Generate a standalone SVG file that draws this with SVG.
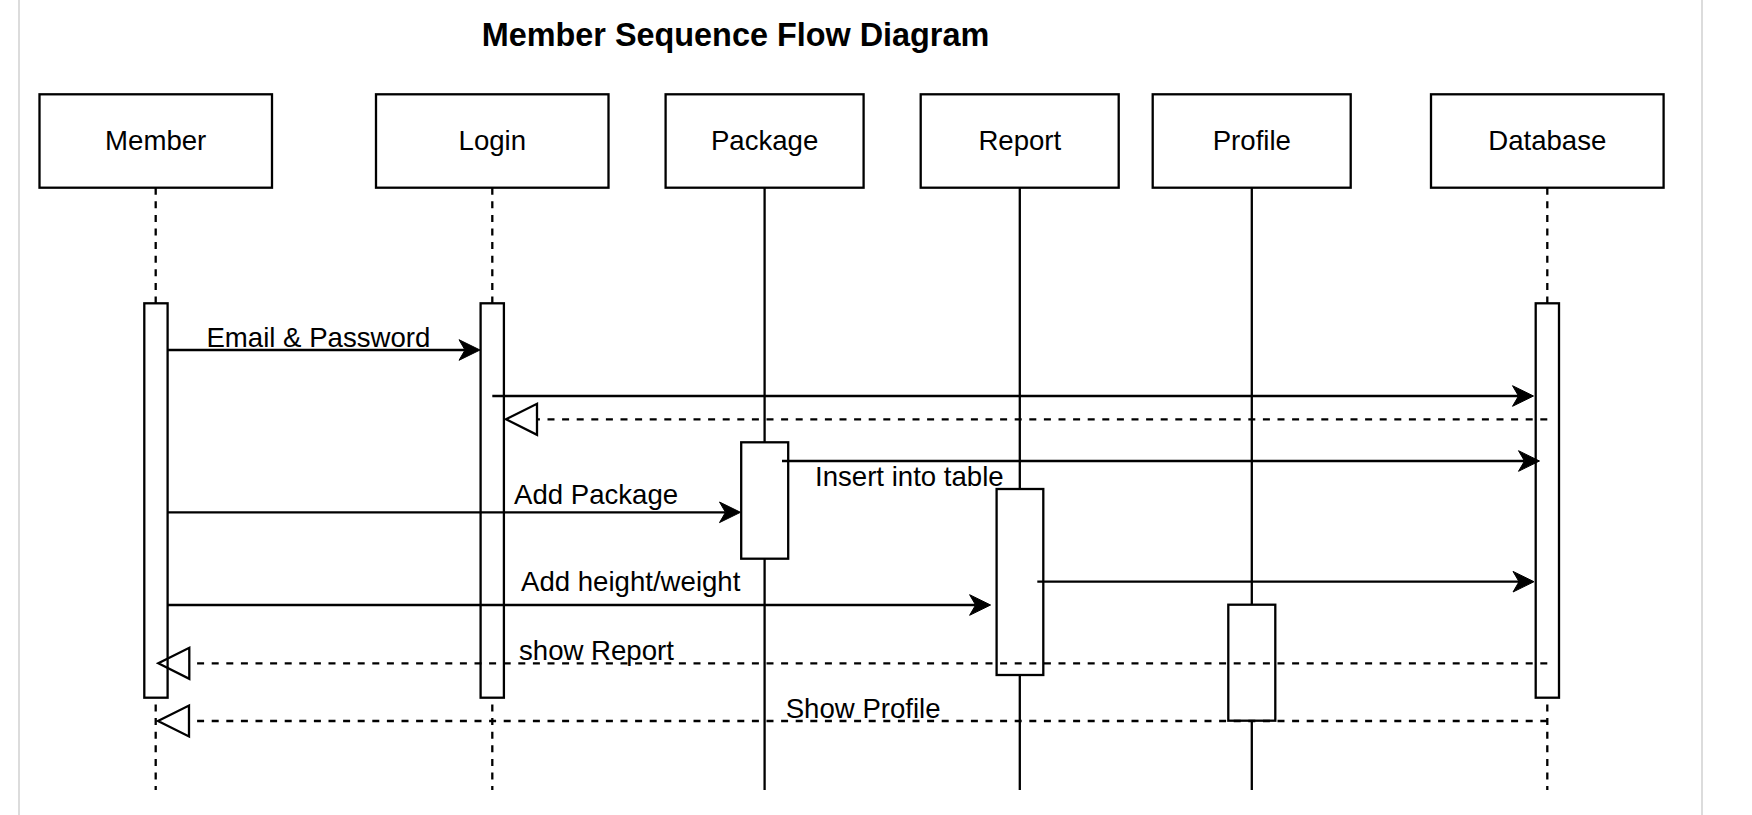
<svg xmlns="http://www.w3.org/2000/svg" width="1752" height="815" viewBox="0 0 1752 815">
<defs>
<style>
.box{fill:#fff;stroke:#000;stroke-width:2.3}
.act{fill:#fff;stroke:#000;stroke-width:2.3}
.life{fill:none;stroke:#000;stroke-width:2.3}
.dash{stroke-dasharray:7 6.6}
.msg{fill:none;stroke:#000;stroke-width:2.3}
.ret{fill:none;stroke:#000;stroke-width:2.3;stroke-dasharray:7 7.6}
.lbl{font-family:"Liberation Sans",Arial,Helvetica,sans-serif;font-size:27.6px;fill:#000}
.ctr{text-anchor:middle}
.title{font-family:"Liberation Sans",Arial,Helvetica,sans-serif;font-size:32.4px;font-weight:bold;fill:#000;text-anchor:middle}
.page{stroke:#dcdcdc;stroke-width:2}
</style>
<marker id="arr" markerUnits="userSpaceOnUse" markerWidth="30" markerHeight="30" viewBox="-4 -15 30 30" refX="6" refY="0" orient="auto" overflow="visible">
<path d="M21,0 L0,-10.3 L6,0 L0,10.3 Z" fill="#000" stroke="#000" stroke-width="1" stroke-dasharray="none"/>
</marker>
<marker id="open" markerUnits="userSpaceOnUse" markerWidth="40" markerHeight="40" viewBox="-4 -20 40 40" refX="0" refY="0" orient="auto" overflow="visible">
<path d="M31,0 L0,-15.5 L0,15.5 Z" fill="none" stroke="#000" stroke-width="2.3" stroke-dasharray="none"/>
</marker>
</defs>
<rect x="0" y="0" width="1752" height="815" fill="#fff"/>
<line class="page" x1="19" y1="0" x2="19" y2="815"/>
<line class="page" x1="1702" y1="0" x2="1702" y2="815"/>
<text id="title" class="title" x="735.5" y="45.7">Member Sequence Flow Diagram</text>

<g id="member">
<line class="life dash" x1="155.7" y1="187.7" x2="155.7" y2="790"/>
<rect class="box" x="39.5" y="94.3" width="232.5" height="93.4"/>
<text class="lbl ctr" x="155.7" y="150">Member</text>
<rect class="act" x="144.3" y="303.3" width="23.3" height="394.4"/>
</g>
<g id="login">
<line class="life dash" x1="492.3" y1="187.7" x2="492.3" y2="790"/>
<rect class="box" x="376" y="94.3" width="232.5" height="93.4"/>
<text class="lbl ctr" x="492.3" y="150">Login</text>
<rect class="act" x="480.6" y="303.3" width="23.3" height="394.4"/>
</g>
<g id="package">
<line class="life" x1="764.6" y1="187.7" x2="764.6" y2="790"/>
<rect class="box" x="665.6" y="94.3" width="198" height="93.4"/>
<text class="lbl ctr" x="764.6" y="150">Package</text>
<rect class="act" x="741.2" y="442.3" width="47" height="116.4"/>
</g>
<g id="report">
<line class="life" x1="1019.8" y1="187.7" x2="1019.8" y2="790"/>
<rect class="box" x="920.7" y="94.3" width="198" height="93.4"/>
<text class="lbl ctr" x="1019.8" y="150">Report</text>
<rect class="act" x="996.6" y="489" width="46.7" height="186"/>
</g>
<g id="profile">
<line class="life" x1="1251.8" y1="187.7" x2="1251.8" y2="790"/>
<rect class="box" x="1152.7" y="94.3" width="198" height="93.4"/>
<text class="lbl ctr" x="1251.8" y="150">Profile</text>
<rect class="act" x="1228.3" y="604.7" width="47" height="116"/>
</g>
<g id="database">
<line class="life dash" x1="1547.3" y1="187.7" x2="1547.3" y2="790"/>
<rect class="box" x="1431" y="94.3" width="232.6" height="93.4"/>
<text class="lbl ctr" x="1547.3" y="150">Database</text>
<rect class="act" x="1535.7" y="303.3" width="23.3" height="394.4"/>
</g>

<g id="connectors">
<path class="msg" d="M167.6,350 H465" marker-end="url(#arr)"/>
<path class="msg" d="M492.3,396 H1518.5" marker-end="url(#arr)"/>
<path class="ret" d="M1547.3,419.3 H537" marker-end="url(#open)"/>
<path class="msg" d="M782,461 H1524.5" marker-end="url(#arr)"/>
<path class="msg" d="M167.6,512.3 H725.5" marker-end="url(#arr)"/>
<path class="msg" d="M1037.3,581.7 H1519" marker-end="url(#arr)"/>
<path class="msg" d="M167.6,605 H975.6" marker-end="url(#arr)"/>
<path class="ret" d="M1547.3,663.3 H189.3" marker-end="url(#open)"/>
<path class="ret" d="M1547.3,721 H189" marker-end="url(#open)"/>
<text class="lbl" x="206.4" y="346.7">Email &amp; Password</text>
<text class="lbl" x="815" y="485.5">Insert into table</text>
<text class="lbl" x="514" y="504.3">Add Package</text>
<text class="lbl" x="521" y="591">Add height/weight</text>
<text class="lbl" x="519" y="660">show Report</text>
<text class="lbl" x="785.7" y="717.7">Show Profile</text>
</g>
</svg>
